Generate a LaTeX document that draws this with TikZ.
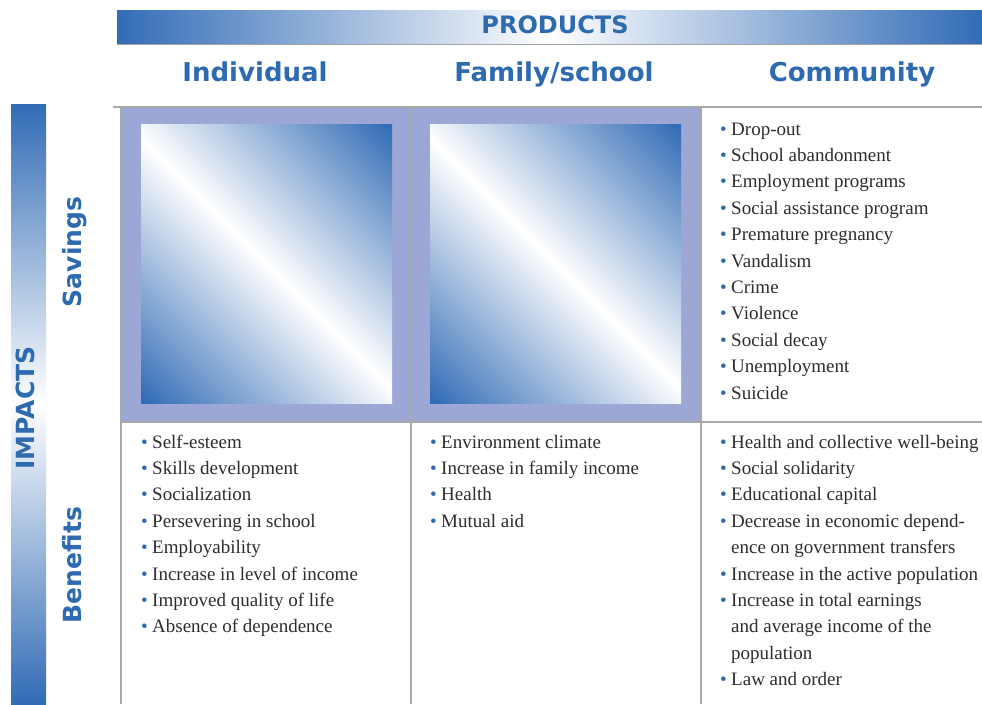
\documentclass[tikz,border=0pt]{standalone}
\usepackage{fontspec}
\setmainfont{Liberation Serif}
\newfontfamily\headfont{DejaVu Sans}
\definecolor{barblue}{RGB}{50,108,182}
\definecolor{headblue}{RGB}{46,106,176}
\definecolor{framefill}{RGB}{157,167,214}
\definecolor{gridgray}{RGB}{168,168,168}
\definecolor{itemgray}{RGB}{45,45,45}
\pgfdeclarehorizontalshading{glassshade}{100bp}{color(0bp)=(barblue); color(15bp)=(barblue);
  color(50bp)=(white); color(85bp)=(barblue); color(100bp)=(barblue)}
\newcommand{\bul}{\makebox[11pt][l]{\textcolor{headblue}{\textbullet}}}
\newcommand{\cnt}{\hspace*{11pt}}

\begin{document}
\begin{tikzpicture}[x=1pt, y=-1pt,
  head/.style={font=\headfont\bfseries\fontsize{26}{30}\selectfont, text=headblue, inner sep=0, anchor=base},
  side/.style={font=\headfont\bfseries\fontsize{25}{30}\selectfont, text=headblue, inner sep=0, anchor=base, rotate=90},
  item/.style={font=\fontsize{19}{24}\selectfont, text=itemgray, inner sep=0, anchor=base west},
  grid/.style={gridgray, line width=2pt},
  glass/.style={shading=glassshade, shading angle=45}]
\useasboundingbox (0,0) rectangle (982,704);

\shade[left color=barblue, right color=barblue, middle color=white] (117,10) rectangle (982,44);
\draw[gridgray, line width=1pt] (117,44) -- (982,44);
\shade[top color=barblue, bottom color=barblue, middle color=white] (11,104) rectangle (46,704);

\fill[framefill] (121,107) rectangle (701,422);
\shade[glass] (141,124) rectangle (392,403);
\shade[glass] (430,124) rectangle (681,403);

\draw[grid] (113,107) -- (982,107);
\draw[grid] (121,422) -- (982,422);
\draw[grid] (121,107) -- (121,704);
\draw[grid] (411,107) -- (411,704);
\draw[grid] (701,107) -- (701,704);

\node[head, font=\headfont\bfseries\fontsize{24}{28}\selectfont] (products) at (555,33) {PRODUCTS};
\node[head] (indiv) at (255,81) {Individual};
\node[head] (family) at (554,81) {Family/school};
\node[head] (commun) at (852,81) {Community};

\node[side] (impacts) at (34,408) {IMPACTS};
\node[side] (savings) at (81,252) {Savings};
\node[side] (benefits) at (81,565) {Benefits};

\foreach \txt [count=\i] in {Drop-out, School abandonment, Employment programs,
    Social assistance program, Premature pregnancy, Vandalism, Crime, Violence,
    Social decay, Unemployment, Suicide}
  \node[item] (sav\i) at (720,{135+26.4*(\i-1)}) {\bul\txt};

\foreach \txt [count=\i] in {Self-esteem, Skills development, Socialization,
    Persevering in school, Employability, Increase in level of income,
    Improved quality of life, Absence of dependence}
  \node[item] (indben\i) at (141,{448+26.4*(\i-1)}) {\bul\txt};

\foreach \txt [count=\i] in {Environment climate, Increase in family income,
    Health, Mutual aid}
  \node[item] (famben\i) at (430,{448+26.4*(\i-1)}) {\bul\txt};

\foreach \txt [count=\i] in {\bul Health and collective well-being,
    \bul Social solidarity, \bul Educational capital,
    \bul Decrease in economic depend-, \cnt ence on government transfers,
    \bul Increase in the active population, \bul Increase in total earnings,
    \cnt and average income of the, \cnt population, \bul Law and order}
  \node[item] (comben\i) at (720,{448+26.4*(\i-1)}) {\txt};
\end{tikzpicture}
\end{document}
